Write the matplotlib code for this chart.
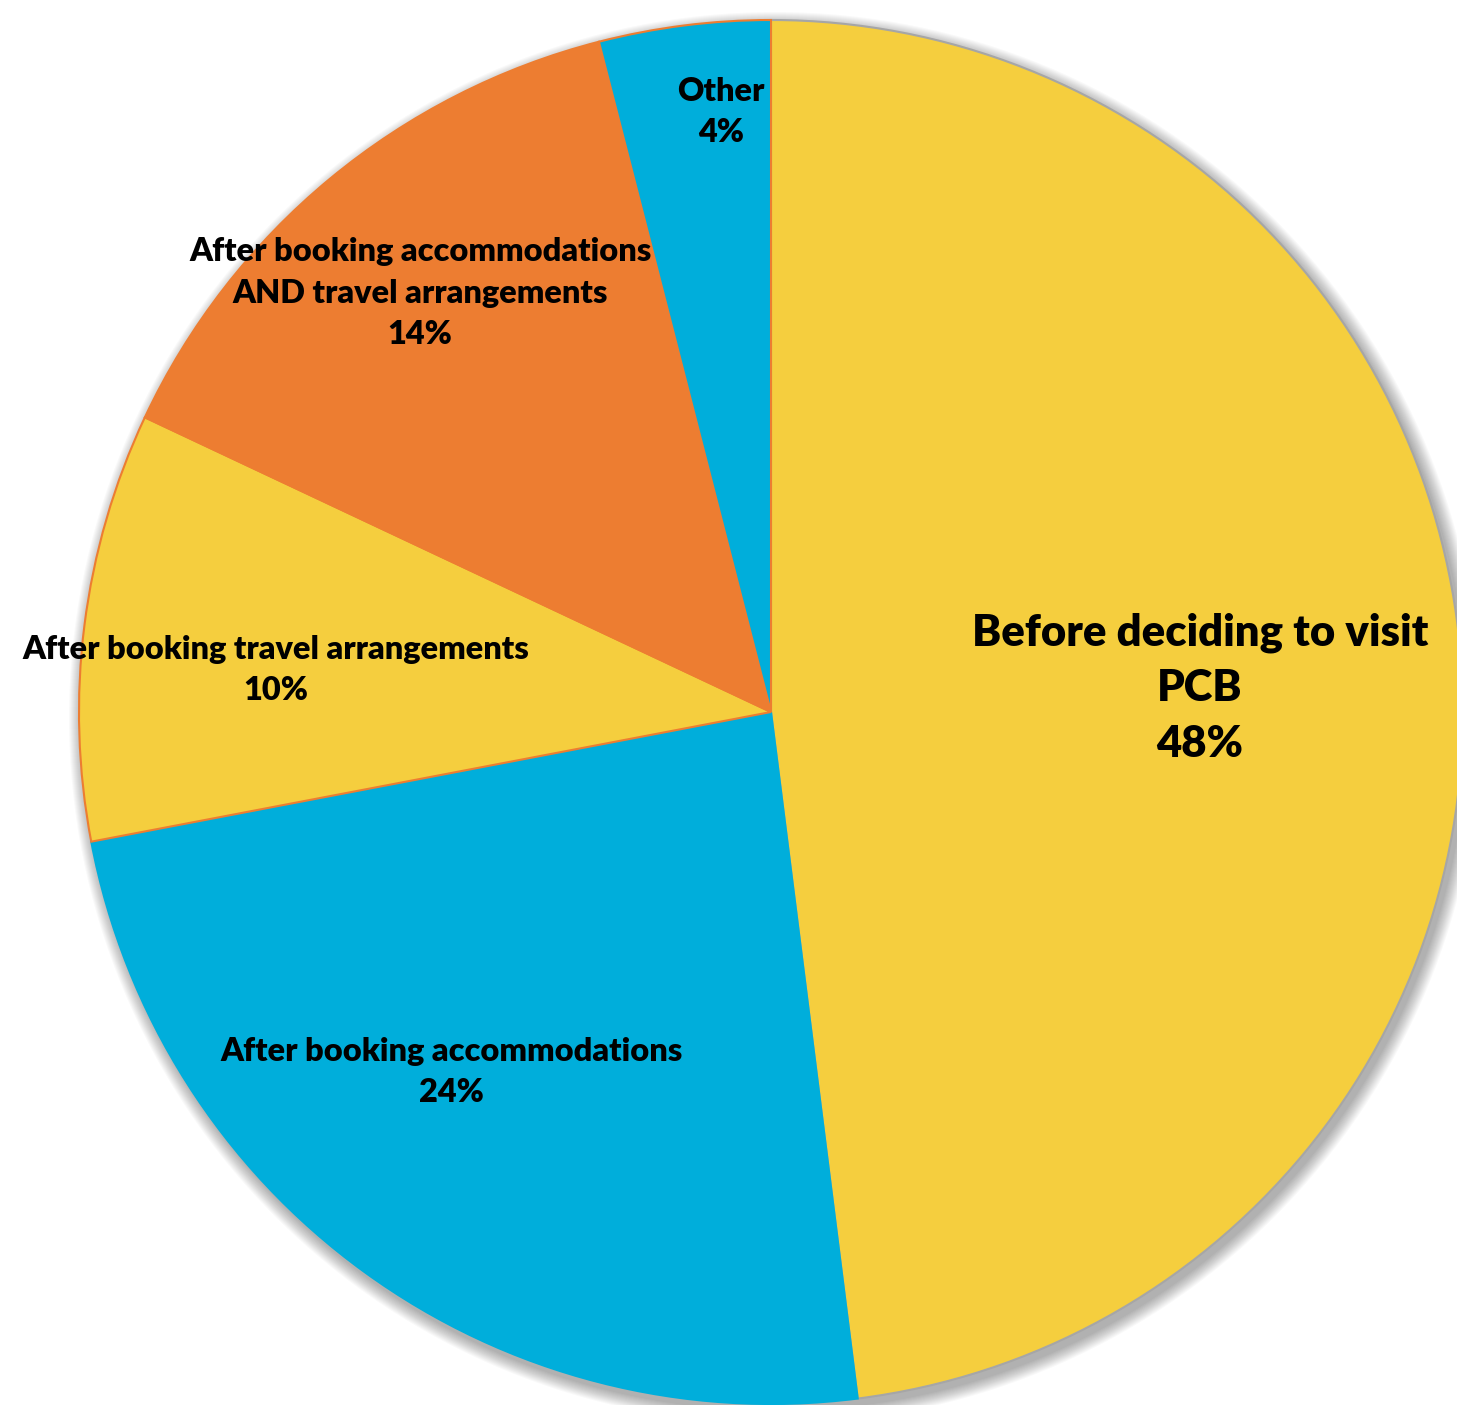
import matplotlib.pyplot as plt
from matplotlib.patches import Circle

# Survey answers: when visitors first looked at the destination
labels = [
    "Before deciding to visit\nPCB",
    "After booking accommodations",
    "After booking travel arrangements",
    "After booking accommodations\nAND travel arrangements",
    "Other",
]
shares = [48, 24, 10, 14, 4]

colors = ["#F5CE3E", "#00AEDB", "#F5CE3E", "#ED7D31", "#00AEDB"]
edge_colors = ["#A6A6A6", "#00AEDB", "#ED7D31", "#ED7D31", "#ED7D31"]
# label centres relative to the pie centre, in units of the radius
label_pos = [(0.620, 0.035), (-0.462, -0.520), (-0.715, 0.061),
             (-0.507, 0.605), (-0.072, 0.867)]
label_size = [31.4, 23.4, 23.4, 23.4, 23.4]
label_spacing = [1.47, 1.52, 1.52, 1.52, 1.52]

W, H = 1457, 1405
cx, cy, r = 771, H - 712, 692

fig = plt.figure(figsize=(W / 100, H / 100), dpi=100)
ax = fig.add_axes([0, 0, 1, 1])

# soft drop shadow behind the pie
for k in range(14):
    ax.add_patch(Circle((cx + 4, cy - 6), r + 1 + k, color="black",
                        alpha=0.022, lw=0, zorder=0))

wedges, _ = ax.pie(shares, colors=colors, startangle=90, counterclock=False,
                   center=(cx, cy), radius=r, frame=True,
                   wedgeprops=dict(linewidth=1.5))
for w, ec in zip(wedges, edge_colors):
    w.set_edgecolor(ec)
    w.set_zorder(2)

ax.set_xlim(0, W)
ax.set_ylim(0, H)
ax.set_aspect("equal")
ax.axis("off")

for lab, val, (px, py), fs, ls in zip(labels, shares, label_pos,
                                      label_size, label_spacing):
    ax.text(cx + px * r, cy + py * r, f"{lab}\n{val}%",
            ha="center", va="center", fontsize=fs, fontweight="heavy",
            family="Lato", linespacing=ls, zorder=5)

fig.savefig("out.png", dpi=100)
